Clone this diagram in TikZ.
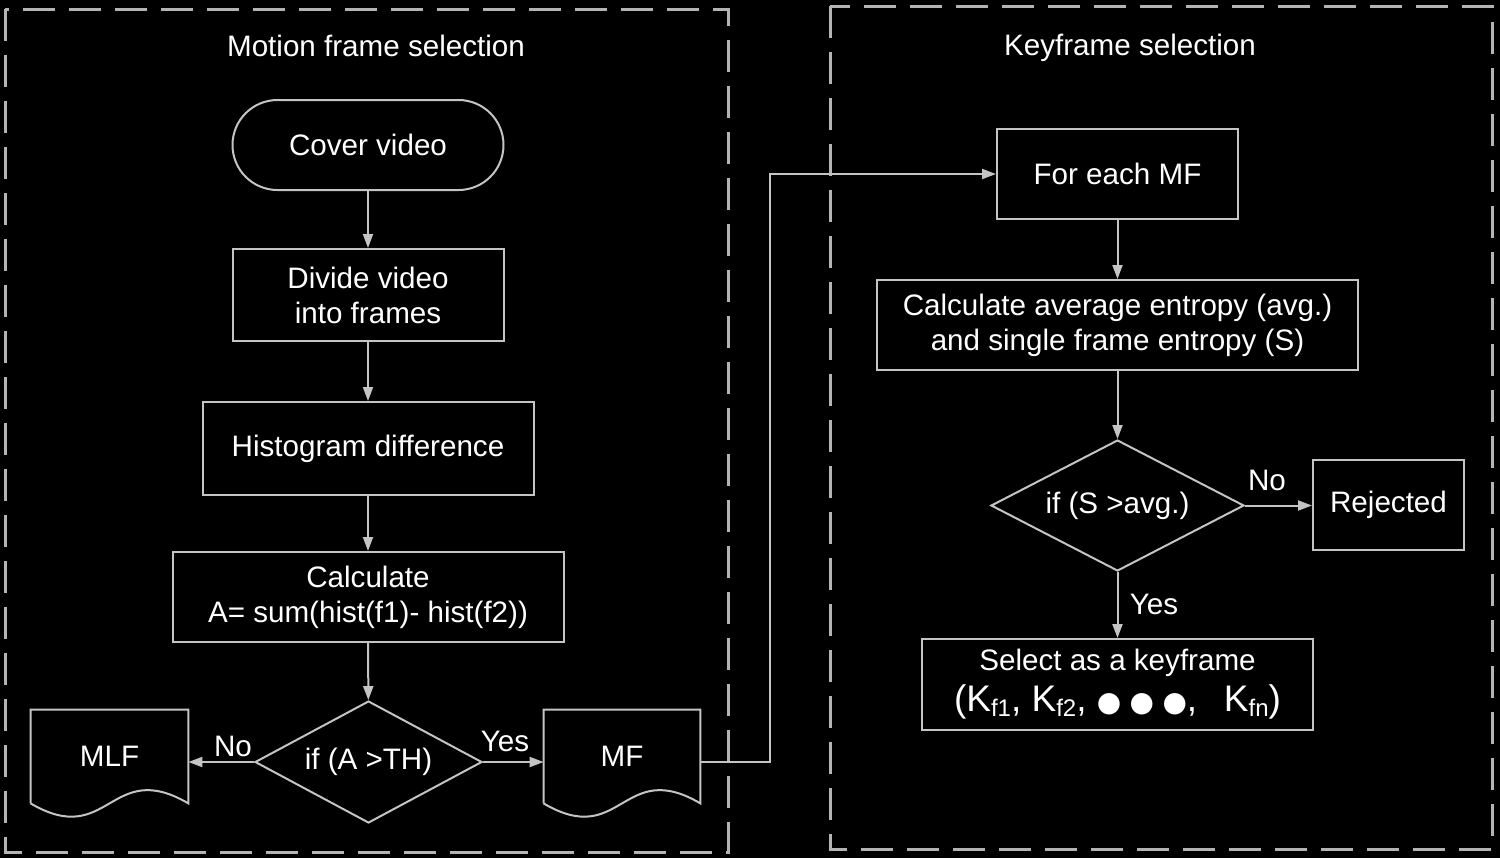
\documentclass[tikz,border=0pt]{standalone}
\usepackage{fontspec}
\setmainfont{Liberation Sans}
\newfontfamily\dejavu{DejaVu Sans}
\usetikzlibrary{shapes.geometric,arrows.meta}
\definecolor{lc}{RGB}{196,196,196}
\definecolor{fc}{RGB}{180,180,180}
\newcommand{\kf}[1]{K\raisebox{-2.5pt}{\fontsize{12}{12}\selectfont #1}}
\begin{document}
\begin{tikzpicture}[x=0.5pt,y=-0.5pt,
  every node/.style={text=white,font=\fontsize{14.8}{17.5}\selectfont,inner sep=0pt},
  box/.style={draw=lc,line width=1pt,fill=black,align=center,rectangle},
  dia/.style={draw=lc,line width=1pt,fill=black,diamond,align=center},
  doc/.style={rectangle,align=center},
  docline/.style={draw=lc,line width=1pt},
  arr/.style={draw=lc,line width=1pt,-{Triangle[length=7pt,width=5pt]}},
  frame/.style={draw=fc,line width=1.5pt,dash pattern=on 16pt off 7pt},
  lbl/.style={font=\fontsize{14.8}{17.5}\selectfont}]
\fill[black] (0,0) rectangle (1500,858);
\path[use as bounding box] (0,0) rectangle (1500,858);
% frames
\draw[frame] (5,9) rectangle (728,852);
\draw[frame] (830,6) rectangle (1492,849);
\node[lbl] (t1) at (376,46) {Motion frame selection};
\node[lbl] (t2) at (1130,48) {Keyframe selection};
% left column
\node[box,rounded corners=22.5pt,minimum width=135.5pt,minimum height=45pt] (cover) at (368,145) {Cover video};
\node[box,minimum width=135.5pt,minimum height=46pt] (divide) at (368,295) {Divide video\\into frames};
\node[box,minimum width=165.5pt,minimum height=46.5pt] (hist) at (368,448.5) {Histogram difference};
\node[box,minimum width=195.5pt,minimum height=45pt] (calc) at (368,597) {Calculate\\A= sum(hist(f1)- hist(f2))};
\node[dia,aspect=1.86,minimum width=113.5pt,minimum height=61pt] (dec1) at (368.5,762) {if (A >TH)};
\node[doc,minimum width=78.5pt,minimum height=46.5pt] (mlf) at (109.5,756.5) {MLF};
\node[doc,minimum width=78pt,minimum height=46.5pt] (mf) at (622,756.5) {MF};
\draw[docline] (mlf.south west) -- (mlf.north west) -- (mlf.north east) -- (mlf.south east)
  .. controls ([xshift=-39.25pt,yshift=23pt]mlf.south east) and ([xshift=39.25pt,yshift=-23pt]mlf.south west) .. (mlf.south west);
\draw[docline] (mf.south west) -- (mf.north west) -- (mf.north east) -- (mf.south east)
  .. controls ([xshift=-39pt,yshift=23pt]mf.south east) and ([xshift=39pt,yshift=-23pt]mf.south west) .. (mf.south west);
% right column
\node[box,minimum width=120.5pt,minimum height=45pt] (each) at (1117.5,174) {For each MF};
\node[box,minimum width=240.5pt,minimum height=45pt] (entropy) at (1117.5,325) {Calculate average entropy (avg.)\\and single frame entropy (S)};
\node[dia,aspect=1.93,minimum width=126.5pt,minimum height=65.5pt] (dec2) at (1117.5,505.5) {if (S >avg.)};
\node[box,minimum width=75.5pt,minimum height=45pt] (rej) at (1388.5,505) {Rejected};
\node[box,minimum width=195.5pt,minimum height=45.5pt] (sel) at (1117.5,684.5)
  {Select as a keyframe\\[3pt]{\fontsize{18.5}{20}\selectfont (\kf{f1}, \kf{f2}, {\dejavu\fontsize{14}{14}\selectfont ●\hspace{0.3em}●\hspace{0.3em}●},\;\, \kf{fn})}};
% connectors
\draw[arr] (cover) -- (divide);
\draw[arr] (divide) -- (hist);
\draw[arr] (hist) -- (calc);
\draw[arr] (calc) -- (dec1);
\draw[arr] (dec1.west) -- (dec1.west -| mlf.east);
\draw[arr] (dec1.east) -- (dec1.east -| mf.west);
\draw[arr] (dec1.east -| mf.east) -- ++(35pt,0) |- (each.west);
\draw[arr] (each) -- (entropy);
\draw[arr] (entropy) -- (dec2);
\draw[arr] (dec2.east) -- (dec2.east -| rej.west);
\draw[arr] (dec2.south) -- (sel.north);
% labels
\node[lbl] (no1) at (233,746) {No};
\node[lbl] (yes1) at (505,741) {Yes};
\node[lbl] (no2) at (1267,480) {No};
\node[lbl] (yes2) at (1154,604) {Yes};
\end{tikzpicture}
\end{document}
